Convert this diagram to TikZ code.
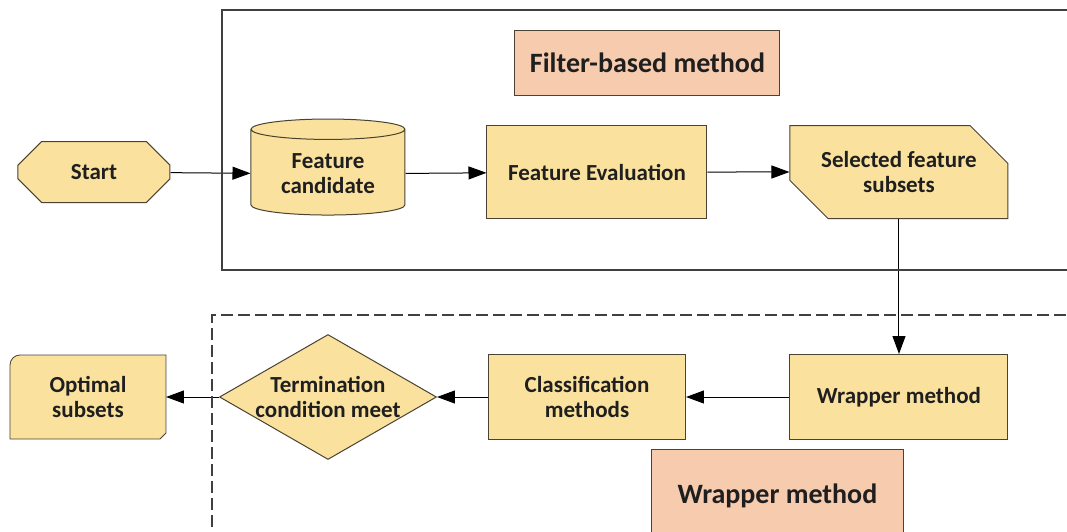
\documentclass[tikz,border=0pt]{standalone}
\usepackage{fontspec}
\setmainfont{Carlito}
\usetikzlibrary{%
  matrix,%
  calc,%
  arrows.meta,%
  shapes.geometric,%
  shapes.misc,%
  backgrounds%
}
\definecolor{boxfill}{RGB}{250,226,158}
\definecolor{tagfill}{RGB}{247,203,173}
\definecolor{rimcol}{RGB}{74,66,50}
\tikzset{
  fcbox/.style={draw=rimcol,fill=boxfill,align=center,inner sep=2pt,
    font=\bfseries\fontsize{11.5}{12.5}\selectfont,text=black!88},
  proc/.style={fcbox,rectangle,minimum height=46.5pt},
  startbox/.style={fcbox,chamfered rectangle,chamfered rectangle xsep=7pt,
    chamfered rectangle ysep=6pt,minimum width=76pt,minimum height=30.5pt},
  store/.style={fcbox,cylinder,shape border rotate=90,aspect=0.2,
    minimum width=77pt,minimum height=48pt},
  selbox/.style={fcbox,chamfered rectangle,
    chamfered rectangle corners={north east,south west},
    chamfered rectangle xsep=9pt,chamfered rectangle ysep=10pt,
    minimum width=109pt,minimum height=46.5pt},
  decide/.style={fcbox,diamond,aspect=1.74,inner sep=-1.5pt,
    minimum width=108.5pt,minimum height=62.5pt},
  outbox/.style={fcbox,draw=none,fill=none,minimum width=77.5pt,minimum height=41.5pt},
  tagbox/.style={draw=rimcol,fill=tagfill,inner sep=2pt,
    font=\bfseries\fontsize{14}{16}\selectfont,text=black!88},
  frame/.style={draw=black!75,line width=.8pt}
}
\begin{document}
\begin{tikzpicture}[>={Triangle[length=9pt,width=6.5pt]},line width=.5pt]
\matrix[column sep={117pt,between origins},row
sep={112.5pt,between origins},nodes={anchor=center}] (m)
{
\node[startbox] (start) {Start}; &\node[store,yshift=-1pt] (cand) {Feature\\candidate};
  &[17.5pt]\node[proc,minimum width=110pt] (eval) {Feature Evaluation};
  &[34pt]\node[selbox] (sel) {Selected feature\\subsets}; \\
%
\node[outbox,xshift=-3pt] (opt) {Optimal\\subsets};
  &\node[decide] (term) {Termination\\condition meet};
  &\node[proc,xshift=-5pt,minimum width=98.5pt,minimum height=42.5pt] (cls) {Classification\\methods};
  &\node[proc,minimum width=109pt,minimum height=42.5pt] (wrap) {Wrapper method}; \\
};
\begin{scope}[on background layer]
\draw[draw=rimcol,fill=boxfill] (opt.south west) -- ([yshift=-5pt]opt.north west)
  arc[start angle=180,end angle=90,radius=5pt] -- (opt.north east)
  -- ([yshift=3pt]opt.south east) -- ([xshift=-3pt]opt.south east) -- cycle;
\end{scope}
\draw[->] (start) edge (cand)
          (cand) edge (eval)
          (eval) edge (sel)
          (sel) edge (wrap)
          (wrap) edge (cls)
          (cls) edge (term)
          (term) edge (opt)
;
\coordinate (tl) at ($(start.center)+(-47pt,86pt)$);
\path[use as bounding box,clip] (tl) rectangle ++(533.5pt,-265.5pt);
\draw[frame] ($(tl)+(550pt,-5pt)$) -| ($(tl)+(111pt,-135pt)$) -- ++(450pt,0);
\draw[frame,dash pattern=on 6pt off 2.5pt] ($(tl)+(550pt,-157.5pt)$) -| ($(tl)+(106pt,-280pt)$);
\node[tagbox,minimum width=132.5pt,minimum height=32.5pt] (filt)
  at ($(tl)+(323.75pt,-31.25pt)$) {Filter-based method};
\node[tagbox,anchor=north,minimum width=126pt,minimum height=46pt] (wtag)
  at ($(tl)+(388.75pt,-224.5pt)$) {Wrapper method};
\end{tikzpicture}
\end{document}
